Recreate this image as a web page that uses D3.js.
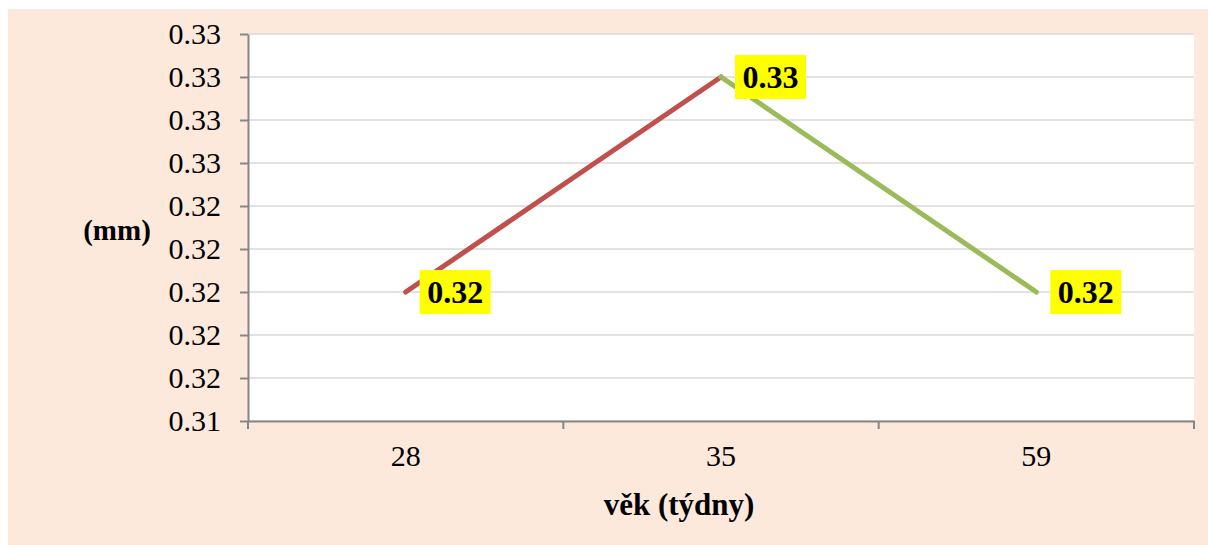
<!DOCTYPE html>
<html>
<head>
<meta charset="utf-8">
<script src="https://cdn.jsdelivr.net/npm/d3@7"></script>
<style>
  body { margin: 0; background: #fff; }
  text { font-family: "Liberation Serif", "Times New Roman", serif; fill: #000; }
</style>
</head>
<body>
<svg width="1208" height="545"></svg>
<script>
// Data
const weeks = ["28", "35", "59"];
const values = [0.32, 0.33, 0.32];
const segColors = ["#C0504D", "#9BBB59"];
const yTicks = [0.314, 0.316, 0.318, 0.32, 0.322, 0.324, 0.326, 0.328, 0.33, 0.332];

const margin = {top: 34, right: 14, bottom: 124, left: 248},
    width = 1208 - margin.left - margin.right,
    height = 545 - margin.top - margin.bottom;

const root = d3.select("svg");

// peach background
root.append("rect")
    .attr("x", 8).attr("y", 9)
    .attr("width", 1200).attr("height", 536)
    .attr("fill", "#FDE9DB");

const svg = root.append("g")
    .attr("transform", `translate(${margin.left},${margin.top})`);

svg.append("rect")
    .attr("width", width).attr("height", height)
    .attr("fill", "#fff");

const x = d3.scaleBand()
    .domain(weeks)
    .range([0, width])
    .padding(0);

const y = d3.scaleLinear()
    .domain([d3.min(yTicks), d3.max(yTicks)])
    .range([height, 0]);

// gridlines
svg.append("g")
  .selectAll("line")
  .data(yTicks)
  .enter()
  .append("line")
    .attr("x1", 0).attr("x2", width)
    .attr("y1", d => y(d)).attr("y2", d => y(d))
    .attr("stroke", "#D9D9D9")
    .attr("stroke-width", 1.5);

// Y axis
const yAxis = svg.append("g")
    .call(d3.axisLeft(y).tickValues(yTicks).tickFormat(d3.format(".2f"))
      .tickSize(8).tickPadding(19).tickSizeOuter(0));
yAxis.select(".domain").attr("stroke", "#868686").attr("stroke-width", 2);
yAxis.selectAll(".tick line").attr("stroke", "#868686").attr("stroke-width", 2);
yAxis.selectAll("text")
    .style("font-family", "'Liberation Serif', serif")
    .style("font-size", "30px");

// X axis: labels at category centres, ticks at boundaries
const xAxis = svg.append("g")
    .attr("transform", `translate(0,${height})`)
    .call(d3.axisBottom(x).tickSize(0).tickPadding(24));
xAxis.select(".domain").attr("stroke", "#868686").attr("stroke-width", 2);
xAxis.selectAll("text")
    .style("font-family", "'Liberation Serif', serif")
    .style("font-size", "30px");

const bounds = weeks.map(d => x(d)).concat([x.range()[1]]);
xAxis.selectAll(".bound")
  .data(bounds)
  .enter()
  .append("line")
    .attr("x1", d => d).attr("x2", d => d)
    .attr("y1", 0).attr("y2", 8)
    .attr("stroke", "#868686")
    .attr("stroke-width", 2);

// axis titles
root.append("text")
    .attr("x", 679).attr("y", 515)
    .attr("text-anchor", "middle")
    .style("font-size", "31px")
    .style("font-weight", "bold")
    .text("věk (týdny)");

root.append("text")
    .attr("x", 117).attr("y", 240)
    .attr("text-anchor", "middle")
    .style("font-size", "29px")
    .style("font-weight", "bold")
    .text("(mm)");

// line segments
const cx = d => x(d) + x.bandwidth() / 2;
const pts = weeks.map((w, i) => [cx(w), y(values[i])]);

svg.selectAll(".seg")
  .data(d3.pairs(pts))
  .enter()
  .append("path")
    .attr("d", d => d3.line()(d))
    .attr("fill", "none")
    .attr("stroke", (d, i) => segColors[i])
    .attr("stroke-width", 5)
    .attr("stroke-linecap", "round");

// data labels
const fmt = d3.format(".2f");
const lab = svg.selectAll(".lab")
  .data(pts)
  .enter()
  .append("g")
    .attr("transform", d => `translate(${d[0] + 14},${d[1]})`);

lab.append("rect")
    .attr("x", 0).attr("y", -22)
    .attr("width", 71).attr("height", 44)
    .attr("fill", "#FFFF00");

lab.append("text")
    .attr("x", 35.5).attr("y", 0)
    .attr("dy", "0.35em")
    .attr("text-anchor", "middle")
    .style("font-size", "32px")
    .style("font-weight", "bold")
    .text((d, i) => fmt(values[i]));
</script>
</body>
</html>
